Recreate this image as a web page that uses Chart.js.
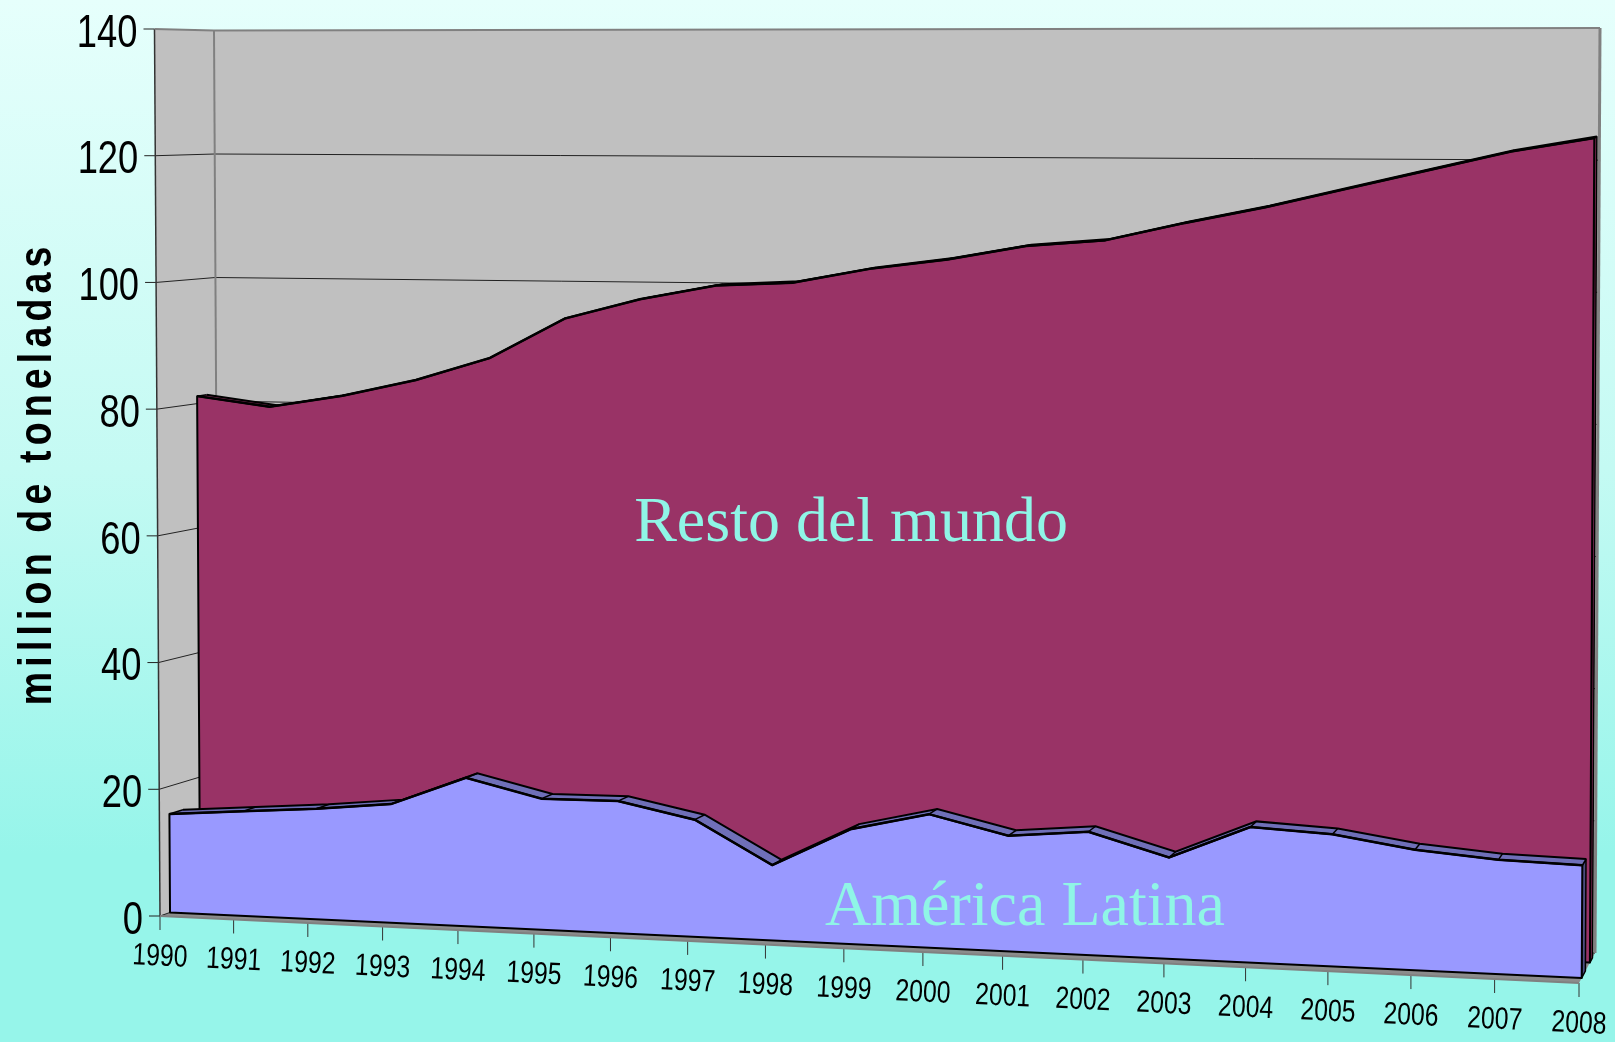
<!DOCTYPE html>
<html lang="es">
<head>
<meta charset="utf-8">
<title>million de toneladas</title>
<script src="https://cdn.jsdelivr.net/npm/chart.js@4"></script>
<style>
  html, body { margin: 0; height: 100%; overflow: hidden; }
  body { background: linear-gradient(180deg, #e6fffc 0, #c4faf3 45%, #96f5ea 82%, #96f5ea 100%); }
  #wrap { position: absolute; left: 0; top: 0; width: 1615px; height: 1042px; }
</style>
</head>
<body>
<div id="wrap"><canvas id="chart"></canvas></div>
<script>
const years = ['1990','1991','1992','1993','1994','1995','1996','1997','1998','1999','2000','2001','2002','2003','2004','2005','2006','2007','2008'];
const americaLatina = [15.6,16.5,17.4,18.6,23.2,20.4,20.5,18.1,11.6,17.6,20.4,17.6,18.7,15.3,20.4,19.8,18.0,17.0,16.7];
const restoMundo = [81.2,79.7,81.7,84.4,88.1,94.5,97.7,100.0,100.6,102.9,104.5,106.7,107.7,110.5,113.0,115.9,118.8,121.7,123.8];
const yTitle = 'million de toneladas';

// depth of each series inside the 3D box (0 = front, 1 = back wall)
const AL_FRONT = 0.17, AL_BACK = 0.40, RM_FRONT = 0.68, RM_BACK = 0.84;

const SANS = "'Liberation Sans',Arial,sans-serif";
const COLORS = {
  wall: '#c0c0c0', floor: '#8c8c8c', edge: '#808080',
  resto: '#993366', restoDark: '#7a2952',
  latina: '#9999ff', latinaDark: '#6f6fb8', latinaSide: '#4d4d80',
  note: '#8ff5e6'
};

// the box as it appears on screen
const BOX = {
  flb: [160, 916], blb: [219, 895], frb: [1579, 983], brb: [1595, 953],
  flt: [154.5, 29], blt: [214, 30.5], frt: [1584, 35], brt: [1600, 28]
};
const PERSPECTIVE = 1.075;

const mix = (a, b, t) => [a[0] + (b[0] - a[0]) * t, a[1] + (b[1] - a[1]) * t];

// u = along the years, v = up the value axis, w = into the depth (all 0..1)
function project(u, v, w) {
  const t = u / (u + PERSPECTIVE * (1 - u));
  const bottom = mix(mix(BOX.flb, BOX.frb, t), mix(BOX.blb, BOX.brb, t), w);
  const top = mix(mix(BOX.flt, BOX.frt, t), mix(BOX.blt, BOX.brt, t), w);
  return mix(bottom, top, v);
}

function poly(ctx, pts, fill, stroke, width) {
  ctx.beginPath();
  pts.forEach((p, i) => i ? ctx.lineTo(p[0], p[1]) : ctx.moveTo(p[0], p[1]));
  ctx.closePath();
  if (fill) { ctx.fillStyle = fill; ctx.fill(); }
  if (stroke) { ctx.strokeStyle = stroke; ctx.lineWidth = width; ctx.stroke(); }
}

function seg(ctx, a, b, color, width) {
  ctx.beginPath();
  ctx.moveTo(a[0], a[1]);
  ctx.lineTo(b[0], b[1]);
  ctx.strokeStyle = color;
  ctx.lineWidth = width;
  ctx.stroke();
}

const pointsOf = meta => meta.data.map(p => [p.x, p.y]);

// the reference text is squeezed along its baseline
function squeezed(ctx, squeeze, spacing, draw) {
  const fillText = ctx.fillText;
  ctx.fillText = function (text, x, y) {
    ctx.save();
    ctx.scale(squeeze, 1);
    ctx.letterSpacing = spacing;
    fillText.call(ctx, text, x / squeeze, y);
    ctx.restore();
  };
  draw();
  delete ctx.fillText;
}

function wrapScale(scale, method, squeeze, spacing) {
  const draw = scale[method].bind(scale);
  scale[method] = (...args) => squeezed(scale.ctx, squeeze, spacing, () => draw(...args));
}

const box3d = {
  id: 'box3d',
  // move every point from the flat scales into the box
  afterDatasetsUpdate(chart) {
    const { left, width, bottom, height } = chart.chartArea;
    chart.data.datasets.forEach((ds, i) => {
      chart.getDatasetMeta(i).data.forEach(pt => {
        const p = project((pt.x - left) / width, (bottom - pt.y) / height, ds.depth);
        pt.x = p[0];
        pt.y = p[1];
      });
    });
  },
  beforeDraw(chart) {
    const { x, y } = chart.scales;
    // axis labels follow the slanted edges of the box
    const xItems = x.getLabelItems();
    if (!xItems.moved) {
      xItems.moved = true;
      xItems.forEach((item, i) => {
        const p = project(i / (years.length - 1), 0, 0);
        item.textOffset = 0;
        item.options.translation = [p[0], p[1] + 41];
        item.options.textBaseline = 'middle';
        item.options.textAlign = 'center';
        item.options.rotation = 0.048;
      });
    }
    const yItems = y.getLabelItems();
    if (!yItems.moved) {
      yItems.moved = true;
      yItems.forEach((item, i) => {
        const p = project(0, y.ticks[i].value / 140, 0);
        item.options.translation = [p[0] - 17, p[1] + 5];
      });
    }
    if (!y.squeezed) {
      y.squeezed = true;
      wrapScale(x, 'drawLabels', 0.8, '0px');
      wrapScale(y, 'drawLabels', 0.79, '0px');
      wrapScale(y, 'drawTitle', 0.8, '6.4px');
    }
  },
  beforeDatasetsDraw(chart) {
    const ctx = chart.ctx;
    const n = years.length - 1;
    ctx.save();
    poly(ctx, [project(0, 0, 1), project(1, 0, 1), project(1, 1, 1), project(0, 1, 1)], COLORS.wall);
    poly(ctx, [project(0, 0, 0), project(0, 0, 1), project(0, 1, 1), project(0, 1, 0)], COLORS.wall);
    poly(ctx, [project(0, 0, 0), project(1, 0, 0), project(1, 0, 1), project(0, 0, 1)], COLORS.floor);

    chart.scales.y.ticks.forEach(t => {
      const v = t.value / 140;
      const front = project(0, v, 0);
      if (v < 1) {
        seg(ctx, front, project(0, v, 1), '#222', 1);
        seg(ctx, project(0, v, 1), project(1, v, 1), '#222', 1);
      }
      seg(ctx, [front[0] - 11, front[1]], front, '#222', 1);
    });
    years.forEach((label, i) => {
      const p = project(i / n, 0, 0);
      seg(ctx, p, [p[0], p[1] + 14], '#333', 1);
    });

    seg(ctx, project(0, 0, 0), project(0, 1, 0), '#333', 1.5);
    seg(ctx, project(0, 0, 1), project(0, 1, 1), COLORS.edge, 2);
    seg(ctx, project(0, 1, 0), project(0, 1, 1), COLORS.edge, 2);
    seg(ctx, project(0, 1, 1), project(1, 1, 1), COLORS.edge, 2);
    seg(ctx, project(1, 0, 1), project(1, 1, 1), COLORS.edge, 3);
    seg(ctx, project(0, 0, 0), project(1, 0, 0), COLORS.edge, 2);
    ctx.restore();
  },
  // faces are painted just before the library strokes the dataset's own line
  beforeDatasetDraw(chart, args) {
    const ctx = chart.ctx;
    const ds = chart.data.datasets[args.index];
    const pts = pointsOf(args.meta);
    ctx.save();
    ctx.lineJoin = 'round';
    if (ds.frontOf !== undefined) {
      const front = pointsOf(chart.getDatasetMeta(ds.frontOf));
      const frontDepth = chart.data.datasets[ds.frontOf].depth;
      const last = pts.length - 1;
      poly(ctx, [front[last], pts[last], project(1, 0, ds.depth), project(1, 0, frontDepth)], ds.sideColor, '#000', 1.5);
      for (let i = 0; i < last; i++) {
        poly(ctx, [front[i], front[i + 1], pts[i + 1], pts[i]], ds.ribbonColor);
      }
      pts.forEach((p, i) => seg(ctx, front[i], p, '#000', 1.5));
    } else {
      const base = [project(1, 0, ds.depth), project(0, 0, ds.depth)];
      poly(ctx, pts.concat(base), ds.faceColor, '#000', 2);
    }
    ctx.restore();
  },
  afterDatasetsDraw(chart) {
    const ctx = chart.ctx;
    ctx.save();
    ctx.fillStyle = COLORS.note;
    ctx.font = "64px 'Liberation Serif','Times New Roman',serif";
    ctx.textAlign = 'center';
    ctx.textBaseline = 'middle';
    ctx.fillText('Resto del mundo', 851, 524);
    ctx.fillText('América Latina', 1025, 908);
    ctx.restore();
  }
};

const line = (label, data, depth, width, extra) => Object.assign({
  label, data, depth,
  borderColor: '#000', borderWidth: width,
  pointRadius: 0, tension: 0, fill: false, clip: false
}, extra);

new Chart(document.getElementById('chart'), {
  type: 'line',
  data: {
    labels: years,
    datasets: [
      line('América Latina', americaLatina, AL_FRONT, 2.5, { faceColor: COLORS.latina }),
      line('América Latina (fondo)', americaLatina, AL_BACK, 2, { frontOf: 0, ribbonColor: COLORS.latinaDark, sideColor: COLORS.latinaSide }),
      line('Resto del mundo', restoMundo, RM_FRONT, 2.5, { faceColor: COLORS.resto }),
      line('Resto del mundo (fondo)', restoMundo, RM_BACK, 2, { frontOf: 2, ribbonColor: COLORS.restoDark, sideColor: COLORS.restoDark })
    ]
  },
  options: {
    responsive: true,
    maintainAspectRatio: false,
    animation: false,
    events: [],
    layout: { padding: { top: 29, right: 36, left: 0, bottom: 0 } },
    plugins: { legend: { display: false }, tooltip: { enabled: false } },
    scales: {
      x: {
        grid: { display: false },
        border: { display: false },
        afterFit: s => { s.height = 126; },
        ticks: { autoSkip: false, maxRotation: 0, minRotation: 0, color: '#000', font: { family: SANS, size: 31 } }
      },
      y: {
        min: 0,
        max: 140,
        grid: { display: false },
        border: { display: false },
        afterFit: s => { s.width = 160; },
        title: { display: true, text: yTitle, color: '#000', padding: { top: 10, bottom: 0 }, font: { family: SANS, weight: 'bold', size: 47 } },
        ticks: { stepSize: 20, color: '#000', font: { family: SANS, size: 46 } }
      }
    }
  },
  plugins: [box3d]
});
</script>
</body>
</html>
